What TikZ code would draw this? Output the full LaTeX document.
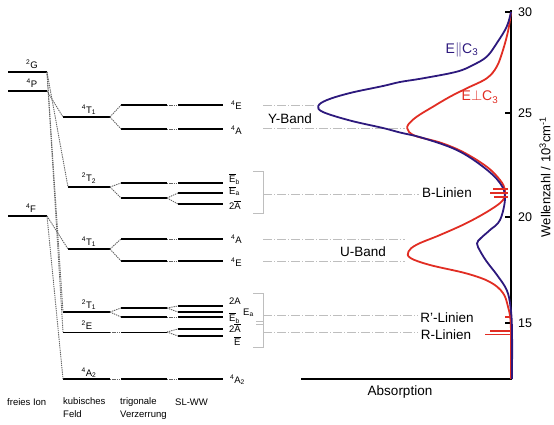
\documentclass[tikz,border=0pt]{standalone}
\usepackage{fontspec}
\setmainfont{Liberation Sans}
\definecolor{specblue}{RGB}{45,25,125}
\definecolor{specred}{RGB}{225,45,35}
\definecolor{guidec}{RGB}{190,190,190}
\definecolor{connc}{RGB}{100,100,100}
% one energy level: name, left x, right x, y
\newcommand{\enlevel}[5][lvl]{%
  \coordinate (#2l) at (#3,#5);
  \coordinate (#2r) at (#4,#5);
  \draw[#1] (#2l) -- (#2r);}
\newcommand{\ovl}[1]{$\overline{\mbox{#1}}$}
\begin{document}
\begin{tikzpicture}[x=1pt,y=-1pt,
  lvl/.style={line width=2.2pt},
  thinlvl/.style={line width=1pt},
  conn/.style={draw=connc,line width=0.9pt,dash pattern=on 1.3pt off 0.9pt},
  guide/.style={draw=guidec,line width=0.8pt,dash pattern=on 9pt off 2pt on 1pt off 2pt},
  bracket/.style={draw=guidec,line width=0.9pt},
  term/.style={font=\fontsize{9.5}{11}\selectfont,inner sep=0pt},
  caption/.style={font=\fontsize{9.5}{13}\selectfont,inner sep=0pt,align=left},
  band/.style={font=\fontsize{13.5}{16}\selectfont,inner sep=0pt},
  tick/.style={font=\fontsize{12.5}{15}\selectfont,inner sep=0pt,anchor=west},
  axis/.style={line width=2pt},
  curve/.style={line width=1.8pt,line join=round},
  sline/.style={draw=specred,line width=1.3pt}]
\useasboundingbox (0,0) rectangle (554,424);

% ---------- free ion ----------
\enlevel{G2}{8}{47}{72}
\enlevel{P4}{8}{47}{91}
\enlevel{F4}{8}{47}{216}
\node[term] (lG2) at (32,64) {\textsuperscript{2}G};
\node[term] (lP4) at (32,83) {\textsuperscript{4}P};
\node[term] (lF4) at (31,208) {\textsuperscript{4}F};

% ---------- cubic field ----------
\enlevel{cTa}{63}{110}{117}
\enlevel{cTb}{68}{110}{187}
\enlevel{cTc}{68}{110}{249}
\enlevel{cTd}{63}{110}{312}
\enlevel[thinlvl]{cE}{63}{110}{332}
\enlevel{cA}{63}{110}{379}
\node[term] (lcTa) at (89,110) {\textsuperscript{4}T\textsubscript{1}};
\node[term] (lcTb) at (89,178) {\textsuperscript{2}T\textsubscript{2}};
\node[term] (lcTc) at (89,242) {\textsuperscript{4}T\textsubscript{1}};
\node[term] (lcTd) at (89,305) {\textsuperscript{2}T\textsubscript{1}};
\node[term] (lcE)  at (87,325) {\textsuperscript{2}E};
\node[term] (lcA)  at (89,373) {\textsuperscript{4}A\textsubscript{2}};

% ---------- trigonal distortion ----------
\enlevel{tA}{121}{167}{105}
\enlevel{tB}{121}{167}{129}
\enlevel{tC}{121}{167}{183}
\enlevel{tD}{121}{167}{198}
\enlevel{tE}{121}{167}{239}
\enlevel{tF}{121}{167}{261}
\enlevel{tG}{121}{167}{308}
\enlevel{tH}{121}{167}{317}
\enlevel[thinlvl]{tI}{121}{167}{332}
\enlevel{tJ}{121}{167}{379}

% ---------- spin-orbit ----------
\enlevel{sA}{178}{223}{105}
\enlevel{sB}{178}{223}{129}
\enlevel{sC}{178}{223}{183}
\enlevel{sD}{178}{223}{193}
\enlevel{sE}{178}{223}{204}
\enlevel{sF}{178}{223}{239}
\enlevel{sG}{178}{223}{261}
\enlevel{sH}{178}{223}{306}
\enlevel{sI}{178}{223}{312}
\enlevel{sJ}{178}{223}{317}
\enlevel{sK}{178}{223}{329}
\enlevel{sL}{178}{223}{336}
\enlevel{sM}{178}{223}{379}

\node[term,anchor=west] (lsA) at (231,105) {\textsuperscript{4}E};
\node[term,anchor=west] (lsB) at (231,130) {\textsuperscript{4}A};
\node[term,anchor=west] (lsC) at (229,179) {\ovl{E}\textsubscript{b}};
\node[term,anchor=west] (lsD) at (229,191) {\ovl{E}\textsubscript{a}};
\node[term,anchor=west] (lsE) at (229,205) {2\ovl{A}};
\node[term,anchor=west] (lsF) at (231,239) {\textsuperscript{4}A};
\node[term,anchor=west] (lsG) at (231,262) {\textsuperscript{4}E};
\node[term,anchor=west] (lsH) at (229,301) {2A};
\node[term,anchor=west] (lsI) at (229,318) {\ovl{E}\textsubscript{b}};
\node[term,anchor=west] (lsJ) at (243,313) {E\textsubscript{a}};
\node[term,anchor=west] (lsK) at (229,328) {2\ovl{A}};
\node[term,anchor=west] (lsL) at (234,341) {\ovl{E}};
\node[term,anchor=west] (lsM) at (230,380) {\textsuperscript{4}A\textsubscript{2}};

% ---------- correlation lines ----------
\draw[conn] (P4r) -- (cTal);
\draw[conn] (G2r) -- (cTbl);
\draw[conn] (G2r) -- (cTdl);
\draw[conn] (G2r) -- (cEl);
\draw[conn] (F4r) -- (cTcl);
\draw[conn] (F4r) -- (cAl);

\draw[conn] (cTar) -- (tAl);  \draw[conn] (cTar) -- (tBl);
\draw[conn] (cTbr) -- (tCl);  \draw[conn] (cTbr) -- (tDl);
\draw[conn] (cTcr) -- (tEl);  \draw[conn] (cTcr) -- (tFl);
\draw[conn] (cTdr) -- (tGl);  \draw[conn] (cTdr) -- (tHl);
\draw[conn] (cEr) -- (tIl);
\draw[conn] (cAr) -- (tJl);

\draw[conn] (tAr) -- (sAl);
\draw[conn] (tBr) -- (sBl);
\draw[conn] (tCr) -- (sCl);
\draw[conn] (tDr) -- (sDl);  \draw[conn] (tDr) -- (sEl);
\draw[conn] (tEr) -- (sFl);
\draw[conn] (tFr) -- (sGl);
\draw[conn] (tGr) -- (sHl);  \draw[conn] (tGr) -- (sIl);
\draw[conn] (tHr) -- (sJl);
\draw[conn] (tIr) -- (sKl);  \draw[conn] (tIr) -- (sLl);
\draw[conn] (tJr) -- (sMl);

% ---------- column captions ----------
\node[caption,anchor=west] (cap1) at (7,402) {freies Ion};
\node[caption,anchor=north west] (cap2) at (63,397) {kubisches\\Feld};
\node[caption,anchor=north west] (cap3) at (120,397) {trigonale\\Verzerrung};
\node[caption,anchor=west] (cap4) at (175,402) {SL-WW};

% ---------- brackets ----------
\draw[bracket] (253,171) -- (263,171) -- (263,213) -- (253,213);
\draw[bracket] (253,293) -- (263,293) -- (263,347) -- (253,347);
\draw[bracket] (256,321) -- (263,321);
\draw[bracket] (256,324) -- (263,324);
\coordinate (bY1) at (263,105);
\coordinate (bY2) at (263,128);
\coordinate (bB) at (263,194);
\coordinate (bU1) at (263,239);
\coordinate (bU2) at (263,261);
\coordinate (bR1) at (263,315);
\coordinate (bR2) at (263,332);

% ---------- band labels ----------
\node[band] (Yband) at (290,119) {Y-Band};
\node[band] (Uband) at (363,252) {U-Band};
\node[band,inner sep=3pt] (Blin) at (447,193) {B-Linien};
\node[band,inner sep=3pt] (Rplin) at (447,318) {R'-Linien};
\node[band,inner sep=3pt] (Rlin) at (446,335) {R-Linien};

\coordinate (Yend1) at (316,105);
\coordinate (Yend2) at (405,128);
\coordinate (Uend1) at (405,239);
\coordinate (Uend2) at (405,261);
\draw[guide] (bY1) -- (Yend1);
\draw[guide] (bY2) -- (Yend2);
\draw[guide] (bB) -- (Blin.west |- bB);
\draw[guide] (bU1) -- (Uend1);
\draw[guide] (bU2) -- (Uend2);
\draw[guide] (bR1) -- (Rplin.west |- bR1);
\draw[guide] (bR2) -- (Rlin.west |- bR2);

% ---------- spectrum axes ----------
\coordinate (axTop) at (511,10);
\coordinate (axO) at (511,379);
\coordinate (axL) at (301,379);
\draw[axis] (axTop) -- (axO) -- (axL);
\foreach \v/\yy in {30/11.7,25/113.3,20/216.7,15/323.3}{
  \draw[line width=2pt] (505,\yy) -- (511,\yy);
  \node[tick] at (518,\yy) {\v};
}
\node[band] (absl) at (400,392) {Absorption};
\node[band,rotate=90,font=\fontsize{13}{15}\selectfont] (wlab) at (545,177)
  {Wellenzahl / 10\textsuperscript{3}cm\textsuperscript{-1}};

% ---------- spectra ----------
\draw[curve,specred] plot[smooth,tension=0.6] coordinates {
  (511,12) (508.3,30) (503,50) (496.7,66.7) (486.7,78.3) (466.7,88.3)
  (450,96.7) (433,106.7) (416.7,116.7) (408.3,124.5) (407.3,128.5)
  (409,132) (417,136.5) (440,142.5) (463,152) (486.7,166.7) (500,180)
  (505,190) (503,200) (490,210) (466.7,223) (440,235) (417,244.5)
  (408.5,251.5) (410.5,258) (430,265) (466.7,273.5) (490,282) (503,293)
  (508,306.7) (510.5,320) (511,340) (511,379)};
\draw[curve,specblue] plot[smooth,tension=0.6] coordinates {
  (511,12) (506.7,26.7) (496.7,43.3) (486.7,56.7) (473,65) (456.7,71.7)
  (423,78.3) (400,82) (383,86) (350,93) (327,100) (318.3,106) (323,112)
  (350,120.5) (383,128) (400,132.5) (423,138) (456.7,150) (483,166.7)
  (500,183) (505,198) (500,220) (490,230) (481,238) (477,243.5)
  (480.5,251.7) (487,262) (497,275) (506.7,290) (510.5,306.7) (512,330)
  (512,379)};

% sharp lines
\draw[sline] (493,189) -- (508,189);
\draw[sline] (490,193) -- (508,193);
\draw[sline] (494,197) -- (508,197);
\draw[sline,line width=2pt] (505,317) -- (510,317);
\draw[sline] (490,331) -- (511,331);
\draw[sline] (485,334.5) -- (511,334.5);

\node[band,specblue,font=\fontsize{14}{16}\selectfont] (epar) at (462,50) {E$\parallel$C\textsubscript{3}};
\node[band,specred,font=\fontsize{14}{16}\selectfont] (eperp) at (480,97) {E$\perp$C\textsubscript{3}};
\end{tikzpicture}
\end{document}
